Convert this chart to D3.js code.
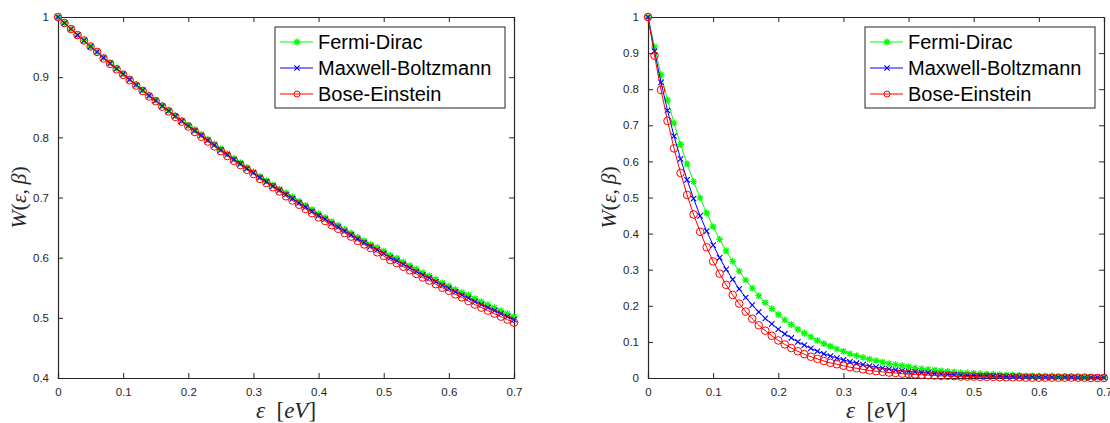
<!DOCTYPE html>
<html lang="en">
<head>
  <meta charset="UTF-8">
  <title>W(eps, beta)</title>
  <style>
    body { margin: 0; background: #fff; }
    svg { display: block; }
    .tick text { font-family: "Liberation Sans", Arial, sans-serif; font-size: 11.5px; fill: #262626; }
    .leg text { font-family: "Liberation Sans", Arial, sans-serif; font-size: 20px; fill: #000; }
    .lbl { font-family: "Liberation Serif", "Times New Roman", serif; font-size: 22px; fill: #262626; }
  </style>
</head>
<body>
  <svg id="chart" width="1110" height="423"></svg>

  <script src="https://d3js.org/d3.v7.min.js"></script>

  <script>
    // energies (eV)
    const energy = [0, 0.01, 0.02, 0.03, 0.04, 0.05, 0.06, 0.07, 0.08, 0.09,
      0.10, 0.11, 0.12, 0.13, 0.14, 0.15, 0.16, 0.17, 0.18, 0.19,
      0.20, 0.21, 0.22, 0.23, 0.24, 0.25, 0.26, 0.27, 0.28, 0.29,
      0.30, 0.31, 0.32, 0.33, 0.34, 0.35, 0.36, 0.37, 0.38, 0.39,
      0.40, 0.41, 0.42, 0.43, 0.44, 0.45, 0.46, 0.47, 0.48, 0.49,
      0.50, 0.51, 0.52, 0.53, 0.54, 0.55, 0.56, 0.57, 0.58, 0.59,
      0.60, 0.61, 0.62, 0.63, 0.64, 0.65, 0.66, 0.67, 0.68, 0.69, 0.70];

    const seriesNames = ['Fermi-Dirac', 'Maxwell-Boltzmann', 'Bose-Einstein'];

    // left panel
    const fdLeft = [1.000, 0.990, 0.980, 0.970, 0.961, 0.951, 0.942, 0.933, 0.924, 0.915,
      0.906, 0.897, 0.888, 0.879, 0.870, 0.862, 0.853, 0.845, 0.836, 0.828,
      0.820, 0.813, 0.805, 0.797, 0.789, 0.781, 0.773, 0.765, 0.758, 0.750,
      0.743, 0.735, 0.728, 0.721, 0.714, 0.708, 0.701, 0.694, 0.687, 0.680,
      0.673, 0.667, 0.660, 0.654, 0.647, 0.641, 0.634, 0.628, 0.622, 0.617,
      0.611, 0.604, 0.599, 0.593, 0.587, 0.581, 0.575, 0.570, 0.564, 0.558,
      0.553, 0.547, 0.542, 0.538, 0.532, 0.527, 0.522, 0.517, 0.512, 0.507, 0.502];
    const mbLeft = [1.000, 0.990, 0.980, 0.970, 0.961, 0.951, 0.942, 0.932, 0.923, 0.914,
      0.905, 0.896, 0.887, 0.878, 0.869, 0.861, 0.852, 0.844, 0.835, 0.827,
      0.819, 0.811, 0.803, 0.795, 0.787, 0.779, 0.771, 0.763, 0.756, 0.748,
      0.741, 0.733, 0.726, 0.719, 0.712, 0.705, 0.698, 0.691, 0.684, 0.677,
      0.670, 0.664, 0.657, 0.651, 0.644, 0.638, 0.631, 0.625, 0.619, 0.613,
      0.607, 0.600, 0.595, 0.589, 0.583, 0.577, 0.571, 0.566, 0.560, 0.554,
      0.549, 0.543, 0.538, 0.533, 0.527, 0.522, 0.517, 0.512, 0.507, 0.502, 0.497];
    const beLeft = [1.000, 0.990, 0.980, 0.970, 0.961, 0.951, 0.942, 0.931, 0.922, 0.913,
      0.904, 0.895, 0.886, 0.877, 0.868, 0.860, 0.851, 0.843, 0.834, 0.826,
      0.818, 0.809, 0.801, 0.793, 0.785, 0.777, 0.769, 0.761, 0.754, 0.746,
      0.739, 0.731, 0.724, 0.717, 0.710, 0.702, 0.695, 0.688, 0.681, 0.674,
      0.667, 0.661, 0.654, 0.648, 0.641, 0.635, 0.628, 0.622, 0.616, 0.609,
      0.603, 0.596, 0.591, 0.585, 0.579, 0.573, 0.567, 0.562, 0.556, 0.550,
      0.545, 0.539, 0.534, 0.528, 0.522, 0.517, 0.512, 0.507, 0.502, 0.497, 0.492];

    // right panel
    const fdRight = [1.000, 0.917, 0.840, 0.770, 0.706, 0.647, 0.593, 0.544, 0.499, 0.457,
      0.419, 0.384, 0.352, 0.323, 0.296, 0.271, 0.249, 0.228, 0.209, 0.192,
      0.176, 0.161, 0.148, 0.135, 0.124, 0.114, 0.104, 0.095, 0.088, 0.080,
      0.074, 0.067, 0.062, 0.057, 0.052, 0.048, 0.044, 0.040, 0.037, 0.034,
      0.031, 0.028, 0.026, 0.024, 0.022, 0.020, 0.018, 0.017, 0.015, 0.014,
      0.013, 0.012, 0.011, 0.010, 0.009, 0.008, 0.008, 0.007, 0.006, 0.006,
      0.005, 0.005, 0.005, 0.004, 0.004, 0.004, 0.003, 0.003, 0.003, 0.002, 0.002];
    const mbRight = [1.000, 0.905, 0.819, 0.741, 0.670, 0.607, 0.549, 0.497, 0.449, 0.407,
      0.368, 0.333, 0.301, 0.273, 0.247, 0.223, 0.202, 0.183, 0.165, 0.150,
      0.135, 0.122, 0.111, 0.100, 0.091, 0.082, 0.074, 0.067, 0.061, 0.055,
      0.050, 0.045, 0.041, 0.037, 0.033, 0.030, 0.027, 0.025, 0.022, 0.020,
      0.018, 0.017, 0.015, 0.014, 0.012, 0.011, 0.010, 0.009, 0.008, 0.007,
      0.007, 0.006, 0.006, 0.005, 0.005, 0.004, 0.004, 0.003, 0.003, 0.003,
      0.002, 0.002, 0.002, 0.002, 0.002, 0.002, 0.001, 0.001, 0.001, 0.001, 0.001];
    const beRight = [1.000, 0.893, 0.798, 0.712, 0.636, 0.568, 0.507, 0.453, 0.405, 0.362,
      0.323, 0.289, 0.258, 0.230, 0.206, 0.184, 0.164, 0.146, 0.131, 0.117,
      0.104, 0.093, 0.083, 0.074, 0.066, 0.059, 0.053, 0.047, 0.042, 0.038,
      0.034, 0.030, 0.027, 0.024, 0.021, 0.019, 0.017, 0.015, 0.014, 0.012,
      0.011, 0.010, 0.009, 0.008, 0.007, 0.006, 0.006, 0.005, 0.004, 0.004,
      0.004, 0.003, 0.003, 0.003, 0.002, 0.002, 0.002, 0.002, 0.001, 0.001,
      0.001, 0.001, 0.001, 0.001, 0.001, 0.001, 0.001, 0.001, 0.000, 0.000, 0.000];

    const xTicks = [0, 0.1, 0.2, 0.3, 0.4, 0.5, 0.6, 0.7];
    const yTicksLeft = [0.4, 0.5, 0.6, 0.7, 0.8, 0.9, 1];
    const yTicksRight = [0, 0.1, 0.2, 0.3, 0.4, 0.5, 0.6, 0.7, 0.8, 0.9, 1];

    const colors = ['#00ff00', '#0000ff', '#ff0000'];
    const markers = ['star', 'cross', 'circle'];
    const axisColor = '#262626';

    const svg = d3.select('#chart');

    function drawMarker(g, type, color) {
      if (type === 'circle') {
        g.append('circle').attr('r', 3.8).attr('fill', 'none')
          .attr('stroke', color).attr('stroke-width', 1);
      } else if (type === 'cross') {
        g.append('path').attr('d', 'M-2.7,-2.7L2.7,2.7M-2.7,2.7L2.7,-2.7')
          .attr('stroke', color).attr('stroke-width', 1.1);
      } else {
        g.append('path')
          .attr('d', 'M0,-3.4V3.4M-3.4,0H3.4M-2.5,-2.5L2.5,2.5M-2.5,2.5L2.5,-2.5')
          .attr('stroke', color).attr('stroke-width', 1.3);
      }
    }

    function panel(left, yDomain, yTicks, series, ylabelX) {
      const top = 17, bottom = 378, w = 456;
      const x = d3.scaleLinear().domain([0, 0.7]).range([left, left + w]);
      const y = d3.scaleLinear().domain(yDomain).range([bottom, top]);
      const g = svg.append('g');
      const tickLen = 5;

      // axes (box on, ticks on all sides pointing inward)
      g.append('g').attr('transform', `translate(0,${bottom})`)
        .call(d3.axisBottom(x).tickValues(xTicks).tickSize(-tickLen).tickPadding(10)
          .tickFormat(d => d3.format('')(+d.toFixed(1))));
      g.append('g').attr('transform', `translate(0,${top})`)
        .call(d3.axisTop(x).tickValues(xTicks).tickSize(-tickLen).tickFormat(''));
      g.append('g').attr('transform', `translate(${left},0)`)
        .call(d3.axisLeft(y).tickValues(yTicks).tickSize(-tickLen).tickPadding(9)
          .tickFormat(d => d3.format('')(+d.toFixed(1))));
      g.append('g').attr('transform', `translate(${left + w},0)`)
        .call(d3.axisRight(y).tickValues(yTicks).tickSize(-tickLen).tickFormat(''));
      g.selectAll('.domain').attr('stroke', axisColor).attr('stroke-width', 1.2);
      g.selectAll('.tick line').attr('stroke', axisColor);

      // curves
      const line = d3.line().x((d, i) => x(energy[i])).y(d => y(d));
      series.forEach((vals, k) => {
        g.append('path').datum(vals)
          .attr('fill', 'none').attr('stroke', colors[k]).attr('stroke-width', 1)
          .attr('d', line);
        g.append('g').selectAll('g').data(vals).join('g')
          .attr('transform', (d, i) => `translate(${x(energy[i])},${y(d)})`)
          .each(function () { drawMarker(d3.select(this), markers[k], colors[k]); });
      });

      // legend
      const lx = left + 217, ly = 27;
      const leg = g.append('g').attr('class', 'leg');
      leg.append('rect').attr('x', lx).attr('y', ly).attr('width', 230).attr('height', 81)
        .attr('fill', '#fff').attr('stroke', axisColor).attr('stroke-width', 1);
      seriesNames.forEach((name, k) => {
        const cy = ly + 15 + k * 26;
        leg.append('line').attr('x1', lx + 5).attr('x2', lx + 38)
          .attr('y1', cy).attr('y2', cy).attr('stroke', colors[k]).attr('stroke-width', 1.2);
        const mg = leg.append('g').attr('transform', `translate(${lx + 22},${cy})`);
        drawMarker(mg, markers[k], colors[k]);
        if (markers[k] === 'circle') mg.select('circle').attr('r', 3);
        leg.append('text').attr('x', lx + 43).attr('y', cy + 7).text(name);
      });

      // axis labels
      const xl = svg.append('text').attr('class', 'lbl')
        .attr('x', left + w / 2).attr('y', 418).attr('text-anchor', 'middle')
        .style('font-size', '23px');
      xl.append('tspan').attr('font-style', 'italic').text('ε');
      xl.append('tspan').text('\u2002[');
      xl.append('tspan').attr('font-style', 'italic').text('eV');
      xl.append('tspan').text(']');

      const yl = svg.append('text').attr('class', 'lbl')
        .attr('transform', `translate(${ylabelX},${(top + bottom) / 2}) rotate(-90)`)
        .attr('text-anchor', 'middle');
      yl.append('tspan').attr('font-style', 'italic').text('W');
      yl.append('tspan').text('(');
      yl.append('tspan').attr('font-style', 'italic').text('ε');
      yl.append('tspan').text(',\u2009');
      yl.append('tspan').attr('font-style', 'italic').text('β');
      yl.append('tspan').text(')');
    }

    panel(58, [0.4, 1], yTicksLeft, [fdLeft, mbLeft, beLeft], 26);
    panel(648, [0, 1], yTicksRight, [fdRight, mbRight, beRight], 616);
  </script>
</body>
</html>
